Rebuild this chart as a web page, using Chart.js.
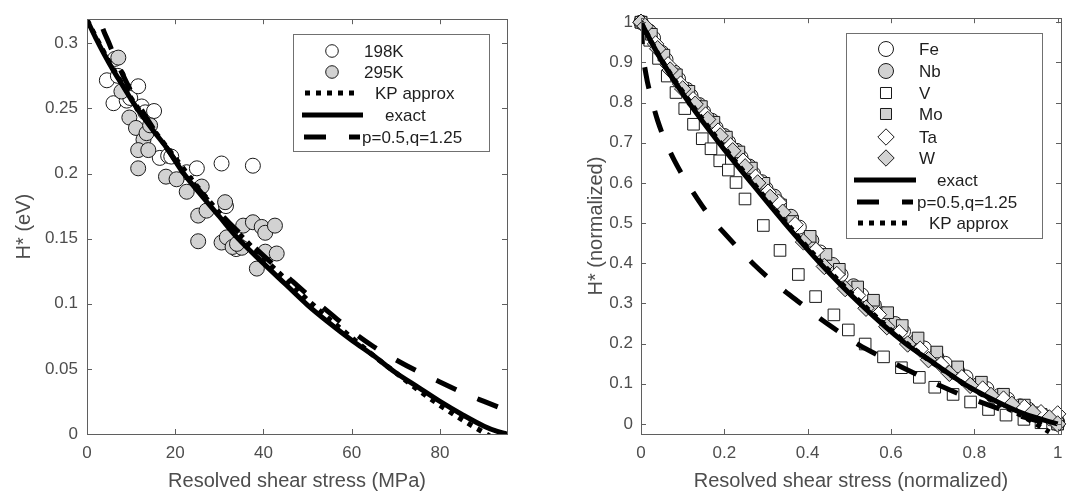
<!DOCTYPE html>
<html><head><meta charset="utf-8">
<script src="https://cdn.jsdelivr.net/npm/chart.js@4.4.0/dist/chart.umd.min.js"></script>
<style>
html,body{margin:0;padding:0;background:#fff;}
#wrap{position:relative;width:1078px;height:496px;overflow:hidden;background:#fff;}
canvas{position:absolute;top:0;}
#c1{left:0;} #c2{left:540px;}
</style></head><body>
<div id="wrap"><canvas id="c1" width="540" height="496"></canvas><canvas id="c2" width="538" height="496"></canvas></div>
<script>
// ---------------- LEFT PANEL DATA ----------------
const leftXTickValues = [0, 20, 40, 60, 80];
const leftXTickLabels = ['0', '20', '40', '60', '80'];
const leftYTickValues = [0, 0.05, 0.1, 0.15, 0.2, 0.25, 0.3];
const leftYTickLabels = ['0', '0.05', '0.1', '0.15', '0.2', '0.25', '0.3'];

const k198X = [4.5, 6.3, 6.0, 7.0, 8.3, 9.0, 9.3, 9.8, 11.6, 12.4, 13.2, 15.2, 16.5, 18.4, 19.1, 22.6, 24.9, 31.5, 30.5, 37.6, 33.8];
const k198Y = [0.2716, 0.288, 0.254, 0.275, 0.262, 0.256, 0.263, 0.258, 0.267, 0.2515, 0.247, 0.248, 0.212, 0.2136, 0.213, 0.201, 0.204, 0.175, 0.2077, 0.206, 0.142];

const k295X = [7.1, 7.8, 9.6, 11.1, 12.8, 13.5, 14.3, 11.6, 13.9, 11.6, 17.9, 20.3, 22.6, 26.0, 25.2, 25.2, 27.1, 31.3, 30.5, 31.7, 33.0, 35.4, 37.6, 39.6, 40.4, 42.6, 40.4, 43.0, 38.5, 35.1, 34.0];
const k295Y = [0.289, 0.263, 0.243, 0.235, 0.226, 0.231, 0.237, 0.218, 0.218, 0.204, 0.1976, 0.1956, 0.186, 0.190, 0.1677, 0.148, 0.1715, 0.178, 0.147, 0.151, 0.1436, 0.160, 0.1626, 0.159, 0.1545, 0.160, 0.140, 0.1386, 0.127, 0.143, 0.146];

const leftExactX = [0, 2, 4, 6, 8, 10, 12, 15, 18, 21.5, 25, 30, 34, 40, 45, 50, 55, 60, 65, 70, 75, 80, 85, 90, 93, 95.2];
const leftExactY = [0.318, 0.304, 0.291, 0.279, 0.268, 0.257, 0.247, 0.233, 0.220, 0.202, 0.187, 0.167, 0.151, 0.131, 0.115, 0.099, 0.085, 0.072, 0.060, 0.047, 0.036, 0.025, 0.015, 0.006, 0.002, 0.0];

const leftPQX = [1.5, 3, 5, 7, 10, 14, 18, 22, 26, 30, 35, 40, 45, 50, 55, 60, 65, 70, 75, 80, 85, 90, 95.2];
const leftPQY = [0.345, 0.318, 0.300, 0.284, 0.263, 0.240, 0.220, 0.201, 0.185, 0.170, 0.153, 0.137, 0.122, 0.107, 0.093, 0.079, 0.067, 0.057, 0.048, 0.040, 0.032, 0.025, 0.018];

const leftKPX = [0, 5, 10, 15, 20, 25, 30, 35, 40, 45, 50, 55, 60, 65, 70, 75, 80, 85, 90, 92];
const leftKPY = [0.318, 0.286, 0.258, 0.234, 0.212, 0.190, 0.170, 0.152, 0.135, 0.119, 0.103, 0.088, 0.074, 0.060, 0.047, 0.034, 0.022, 0.011, 0.001, -0.003];

// ---------------- RIGHT PANEL DATA ----------------
const rightXTickValues = [0, 0.2, 0.4, 0.6, 0.8, 1];
const rightXTickLabels = ['0', '0.2', '0.4', '0.6', '0.8', '1'];
const rightYTickValues = [0, 0.1, 0.2, 0.3, 0.4, 0.5, 0.6, 0.7, 0.8, 0.9, 1];
const rightYTickLabels = ['0', '0.1', '0.2', '0.3', '0.4', '0.5', '0.6', '0.7', '0.8', '0.9', '1'];

const feX = [0, 0.03, 0.06, 0.09, 0.12, 0.15, 0.18, 0.21, 0.24, 0.27, 0.30, 0.33, 0.38, 0.43, 0.48, 0.53, 0.58, 0.63, 0.68, 0.73, 0.78, 0.83, 0.88, 0.93, 0.97, 1.0];
const feY = [1.0, 0.961, 0.907, 0.859, 0.817, 0.778, 0.738, 0.702, 0.664, 0.623, 0.586, 0.551, 0.49, 0.428, 0.372, 0.321, 0.274, 0.23, 0.189, 0.151, 0.117, 0.088, 0.062, 0.037, 0.018, 0.0];

const nbX = [0, 0.02, 0.05, 0.08, 0.11, 0.14, 0.17, 0.2, 0.23, 0.26, 0.29, 0.32, 0.36, 0.41, 0.46, 0.51, 0.56, 0.61, 0.66, 0.71, 0.76, 0.81, 0.86, 0.91, 0.95, 1.0];
const nbY = [1.0, 0.978, 0.925, 0.876, 0.833, 0.795, 0.756, 0.718, 0.681, 0.642, 0.603, 0.567, 0.517, 0.457, 0.397, 0.344, 0.296, 0.25, 0.206, 0.167, 0.132, 0.099, 0.071, 0.045, 0.025, 0.005];

const vX = [0, 0.021, 0.042, 0.063, 0.084, 0.105, 0.126, 0.147, 0.168, 0.189, 0.2096, 0.228, 0.2496, 0.2936, 0.3336, 0.3776, 0.419, 0.463, 0.4976, 0.538, 0.582, 0.625, 0.668, 0.705, 0.749, 0.791, 0.834, 0.876, 0.919, 0.96, 1.0];
const vY = [1.0, 0.955, 0.91, 0.866, 0.825, 0.785, 0.746, 0.71, 0.685, 0.655, 0.632, 0.601, 0.560, 0.494, 0.432, 0.372, 0.317, 0.2715, 0.234, 0.199, 0.167, 0.14, 0.116, 0.0914, 0.0735, 0.0547, 0.036, 0.022, 0.0114, 0.003, 0.0];

const moX = [0, 0.025, 0.055, 0.085, 0.115, 0.145, 0.175, 0.205, 0.235, 0.265, 0.295, 0.335, 0.364, 0.406, 0.444, 0.476, 0.52, 0.558, 0.592, 0.627, 0.665, 0.71, 0.76, 0.817, 0.87, 0.92, 0.96, 1.0];
const moY = [1.0, 0.97, 0.918, 0.869, 0.828, 0.79, 0.751, 0.714, 0.677, 0.637, 0.599, 0.545, 0.504, 0.467, 0.422, 0.385, 0.341, 0.308, 0.277, 0.245, 0.214, 0.179, 0.142, 0.104, 0.074, 0.047, 0.024, 0.0];

const taX = [0, 0.035, 0.065, 0.095, 0.125, 0.155, 0.185, 0.215, 0.245, 0.275, 0.305, 0.33, 0.37, 0.42, 0.47, 0.52, 0.57, 0.62, 0.67, 0.72, 0.77, 0.82, 0.87, 0.92, 0.96, 1.0];
const taY = [1.0, 0.946, 0.894, 0.846, 0.807, 0.769, 0.729, 0.692, 0.654, 0.614, 0.577, 0.552, 0.496, 0.432, 0.372, 0.32, 0.272, 0.227, 0.186, 0.148, 0.115, 0.087, 0.062, 0.041, 0.028, 0.025];

const wX = [0, 0.01, 0.04, 0.07, 0.1, 0.13, 0.16, 0.19, 0.22, 0.25, 0.28, 0.31, 0.34, 0.39, 0.44, 0.49, 0.54, 0.59, 0.64, 0.69, 0.74, 0.79, 0.84, 0.89, 0.94, 0.98, 1.0];
const wY = [1.0, 0.99, 0.934, 0.881, 0.834, 0.796, 0.758, 0.717, 0.68, 0.64, 0.6, 0.564, 0.527, 0.453, 0.392, 0.337, 0.288, 0.242, 0.199, 0.16, 0.126, 0.096, 0.071, 0.049, 0.029, 0.015, 0.0];

const rightExactX = [0, 0.02, 0.052, 0.115, 0.187, 0.265, 0.345, 0.43, 0.525, 0.635, 0.705, 0.775, 0.85, 0.92, 1.0];
const rightExactY = [1.0, 0.96, 0.9, 0.8, 0.7, 0.6, 0.5, 0.4, 0.3, 0.2, 0.15, 0.1, 0.058, 0.025, 0.0];

const rightPQX = [0, 0.004, 0.012, 0.025, 0.04, 0.06, 0.08, 0.105, 0.135, 0.17, 0.2, 0.24, 0.273, 0.31, 0.353, 0.4, 0.438, 0.48, 0.523, 0.575, 0.625, 0.67, 0.717, 0.77, 0.825, 0.88, 0.93, 0.965, 1.0];
const rightPQY = [1.0, 0.93, 0.87, 0.81, 0.755, 0.70, 0.656, 0.61, 0.561, 0.51, 0.475, 0.43, 0.395, 0.36, 0.324, 0.287, 0.256, 0.226, 0.197, 0.168, 0.142, 0.119, 0.0955, 0.072, 0.0506, 0.030, 0.014, 0.005, 0.0];

const rightKPX = [0, 0.05, 0.115, 0.187, 0.265, 0.345, 0.43, 0.525, 0.635, 0.775, 0.85, 0.92, 0.98];
const rightKPY = [1.0, 0.905, 0.805, 0.705, 0.605, 0.505, 0.405, 0.305, 0.203, 0.1, 0.055, 0.017, -0.02];

// ---------------- STYLE ----------------
const FONT = '"Liberation Sans", Arial, sans-serif';
const AXIS_COLOR = '#5f5f5f';
const TEXT_COLOR = '#4d4d4d';
const LEG_TEXT = '#1e1e1e';
const GRAY = '#d2d2d2';
const EDGE = '#1a1a1a';
const TICK_LEN = 5;
const DASH = [22, 23];
const DOT = [5, 6];

function pts(xs, ys) { return xs.map((x, i) => ({x: x, y: ys[i]})); }

function markerDs(label, xs, ys, style, fill, r, order) {
  return {label, data: pts(xs, ys), showLine: false, pointStyle: style, pointRadius: r, pointHoverRadius: r,
    pointBackgroundColor: fill, pointBorderColor: EDGE, pointBorderWidth: 1, backgroundColor: fill, borderColor: EDGE,
    clip: false, order};
}
function lineDs(label, xs, ys, dash, order) {
  return {label, data: pts(xs, ys), showLine: true, pointRadius: 0, borderColor: '#000', backgroundColor: '#000',
    borderWidth: 5, borderDash: dash, borderCapStyle: 'butt', cubicInterpolationMode: 'monotone', clip: 0, fill: false, order};
}

const frameLegend = {
  id: 'frameLegend',
  afterDatasetsDraw(chart, args, opts) {
    const ctx = chart.ctx, a = chart.chartArea, xs = chart.scales.x, ys = chart.scales.y;
    ctx.save();
    ctx.strokeStyle = AXIS_COLOR; ctx.lineWidth = 1; ctx.setLineDash([]);
    ctx.beginPath();
    xs.ticks.forEach(t => { const p = Math.round(xs.getPixelForValue(t.value)) + 0.5;
      ctx.moveTo(p, a.bottom); ctx.lineTo(p, a.bottom - TICK_LEN); ctx.moveTo(p, a.top); ctx.lineTo(p, a.top + TICK_LEN); });
    ys.ticks.forEach(t => { const p = Math.round(ys.getPixelForValue(t.value)) + 0.5;
      ctx.moveTo(a.left, p); ctx.lineTo(a.left + TICK_LEN, p); ctx.moveTo(a.right, p); ctx.lineTo(a.right - TICK_LEN, p); });
    ctx.stroke();
    ctx.strokeRect(Math.round(a.left) + 0.5, Math.round(a.top) + 0.5, Math.round(a.right - a.left), Math.round(a.bottom - a.top));
    // legend
    const L = opts.box;
    ctx.fillStyle = '#fff';
    ctx.fillRect(L.x, L.y, L.w, L.h);
    ctx.strokeStyle = '#707070';
    ctx.strokeRect(L.x + 0.5, L.y + 0.5, L.w, L.h);
    ctx.font = '17px ' + FONT;
    ctx.textAlign = 'left'; ctx.textBaseline = 'middle';
    opts.items.forEach(it => {
      const ds = chart.data.datasets[it.ds];
      if (it.kind === 'marker') {
        ctx.fillStyle = ds.pointBackgroundColor; ctx.strokeStyle = EDGE; ctx.lineWidth = 1; ctx.setLineDash([]);
        Chart.helpers.drawPoint(ctx, {pointStyle: ds.pointStyle, radius: it.r, borderWidth: 1, rotation: 0}, it.mx, it.y);
      } else {
        ctx.strokeStyle = '#000'; ctx.lineWidth = 5; ctx.lineCap = 'butt'; ctx.setLineDash(ds.borderDash || []);
        ctx.beginPath(); ctx.moveTo(it.x0, it.y); ctx.lineTo(it.x1, it.y); ctx.stroke(); ctx.setLineDash([]);
      }
      ctx.fillStyle = LEG_TEXT;
      ctx.fillText(ds.label, it.tx, it.y + 1);
    });
    ctx.restore();
  }
};

function axis(values, labels, min, max, title, isX, width, pad, titlePad) {
  return {
    type: 'linear', min, max,
    afterBuildTicks: s => { s.ticks = values.map(v => ({value: v})); },
    afterFit: s => { if (isX) s.height = width; else s.width = width; },
    grid: {display: false, drawTicks: false},
    border: {display: false},
    ticks: {autoSkip: false, maxRotation: 0, padding: pad, color: TEXT_COLOR, font: {family: FONT, size: 17},
      includeBounds: false, callback: (v, i) => labels[i]},
    title: {display: true, text: title, color: TEXT_COLOR, font: {family: FONT, size: 20}, padding: titlePad}
  };
}

const common = {
  responsive: false, animation: false, devicePixelRatio: 1,
  plugins: {legend: {display: false}, tooltip: {enabled: false}},
  events: []
};

// LEFT CHART
new Chart(document.getElementById('c1'), {
  type: 'scatter',
  data: {datasets: [
    markerDs('198K', k198X, k198Y, 'circle', '#ffffff', 7.5, 5),
    markerDs('295K', k295X, k295Y, 'circle', GRAY, 7.5, 4),
    lineDs('KP approx', leftKPX, leftKPY, DOT, 3),
    lineDs('exact', leftExactX, leftExactY, [], 2),
    lineDs('p=0.5,q=1.25', leftPQX, leftPQY, DASH, 1)
  ]},
  options: Object.assign({}, common, {
    layout: {padding: {left: 0, right: 33, top: 15, bottom: 0}},
    scales: {
      x: axis(leftXTickValues, leftXTickLabels, 0, 95.2, 'Resolved shear stress (MPa)', true, 62, 9, {top: 0, bottom: 3}),
      y: axis(leftYTickValues, leftYTickLabels, 0, 0.3185, 'H* (eV)', false, 87, 9, {top: 12, bottom: 0})
    },
    plugins: Object.assign({}, common.plugins, {frameLegend: {
      box: {x: 293, y: 34, w: 196, h: 117},
      items: [
        {ds: 0, kind: 'marker', mx: 332, r: 6.3, y: 51, tx: 364},
        {ds: 1, kind: 'marker', mx: 332, r: 6.3, y: 72, tx: 364},
        {ds: 2, kind: 'line', x0: 305, x1: 354, y: 93, tx: 375},
        {ds: 3, kind: 'line', x0: 302, x1: 363, y: 115, tx: 385},
        {ds: 4, kind: 'line', x0: 304, x1: 360, y: 137, tx: 362}
      ]
    }})
  }),
  plugins: [frameLegend]
});

// RIGHT CHART
new Chart(document.getElementById('c2'), {
  type: 'scatter',
  data: {datasets: [
    markerDs('Fe', feX, feY, 'circle', '#ffffff', 7, 8),
    markerDs('Nb', nbX, nbY, 'circle', GRAY, 7, 7),
    markerDs('V', vX, vY, 'rect', '#ffffff', 8.2, 6),
    markerDs('Mo', moX, moY, 'rect', GRAY, 8.2, 5),
    markerDs('Ta', taX, taY, 'rectRot', '#ffffff', 8.2, 4),
    markerDs('W', wX, wY, 'rectRot', GRAY, 8.2, 3),
    lineDs('exact', rightExactX, rightExactY, [], 2),
    lineDs('p=0.5,q=1.25', rightPQX, rightPQY, DASH, 1),
    lineDs('KP approx', rightKPX, rightKPY, DOT, 0)
  ]},
  options: Object.assign({}, common, {
    layout: {padding: {left: 0, right: 17, top: 15, bottom: 0}},
    scales: {
      x: axis(rightXTickValues, rightXTickLabels, 0, 1.008, 'Resolved shear stress (normalized)', true, 62, 9, {top: 0, bottom: 3}),
      y: axis(rightYTickValues, rightYTickLabels, -0.025, 1.01, 'H* (normalized)', false, 101, 8, {top: 44, bottom: 0})
    },
    plugins: Object.assign({}, common.plugins, {frameLegend: {
      box: {x: 306, y: 33, w: 196, h: 205},
      items: [
        {ds: 0, kind: 'marker', mx: 346, r: 7.5, y: 49, tx: 379},
        {ds: 1, kind: 'marker', mx: 346, r: 7.5, y: 71, tx: 379},
        {ds: 2, kind: 'marker', mx: 346, r: 7.8, y: 93, tx: 379},
        {ds: 3, kind: 'marker', mx: 346, r: 7.8, y: 114, tx: 379},
        {ds: 4, kind: 'marker', mx: 346, r: 8.2, y: 137, tx: 379},
        {ds: 5, kind: 'marker', mx: 346, r: 8.2, y: 158, tx: 379},
        {ds: 6, kind: 'line', x0: 314, x1: 376, y: 180, tx: 397},
        {ds: 7, kind: 'line', x0: 317, x1: 373, y: 202, tx: 377},
        {ds: 8, kind: 'line', x0: 318, x1: 367, y: 223, tx: 389}
      ]
    }})
  }),
  plugins: [frameLegend]
});
</script>
</body></html>
